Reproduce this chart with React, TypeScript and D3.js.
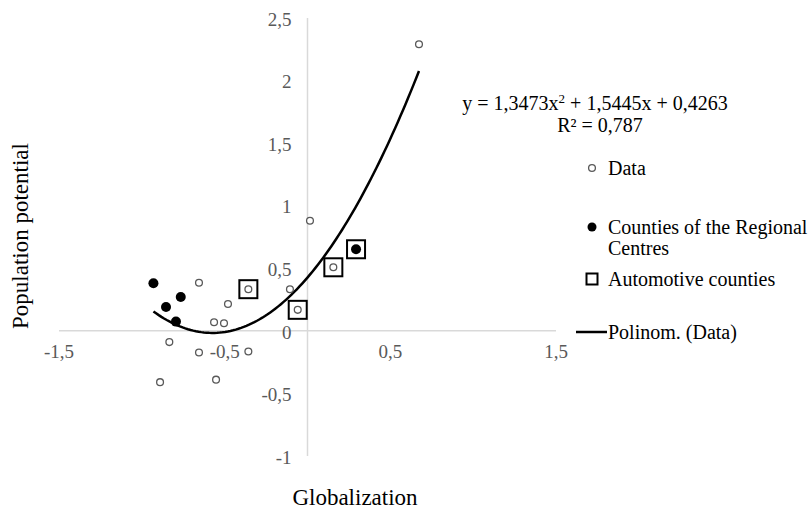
import * as d3 from 'd3';
import { useEffect, useRef } from 'react';

// all observations (Data series, trendline is fitted on these)
const dataX = [-0.93, -0.765, -0.854, -0.794, 0.293, -0.655, -0.564, -0.834, -0.655, -0.89, -0.552, -0.48, -0.504, -0.357, 0.015, -0.106, 0.673, -0.357, 0.156, -0.059];
const dataY = [0.38, 0.27, 0.19, 0.074, 0.652, 0.385, 0.069, -0.09, -0.173, -0.41, -0.39, 0.215, 0.061, -0.165, 0.88, 0.333, 2.29, 0.333, 0.508, 0.168];

// counties of the regional centres
const centresX = [-0.93, -0.765, -0.854, -0.794, 0.293];
const centresY = [0.38, 0.27, 0.19, 0.074, 0.652];

// automotive counties
const autoX = [-0.357, 0.156, -0.059, 0.293];
const autoY = [0.333, 0.508, 0.168, 0.652];

const xTicks = [-1.5, -0.5, 0.5, 1.5];
const yTicks = [-1, -0.5, 0, 0.5, 1, 1.5, 2, 2.5];

// y = a x^2 + b x + c
const trendCoef = [1.3473, 1.5445, 0.4263];
const equationLabel = ['y = 1,3473x', '2', ' + 1,5445x + 0,4263'];
const r2Label = 'R² = 0,787';

const legendLabels = ['Data', 'Counties of the Regional', 'Centres', 'Automotive counties', 'Polinom. (Data)'];

const fmt = (v: number) => String(v).replace('.', ',');

export default function App() {
    const ref = useRef<SVGSVGElement | null>(null);

    useEffect(() => {
        document.body.style.margin = '0';
        const svg = d3.select(ref.current);
        svg.selectAll('*').remove();

        const font = 'Liberation Serif, Times New Roman, serif';

        const x = d3.scaleLinear().domain([-1.5, 1.5]).range([59, 556]);
        const y = d3.scaleLinear().domain([-1, 2.5]).range([456, 18]);

        // axes lines
        svg.append('line')
            .attr('x1', x(-1.5)).attr('x2', x(1.5))
            .attr('y1', y(0)).attr('y2', y(0))
            .attr('stroke', '#d9d9d9').attr('stroke-width', 1.5);
        svg.append('line')
            .attr('x1', x(0)).attr('x2', x(0))
            .attr('y1', y(2.5)).attr('y2', y(-1))
            .attr('stroke', '#d9d9d9').attr('stroke-width', 1.5);

        // tick labels
        svg.append('g')
            .selectAll('text')
            .data(xTicks)
            .join('text')
            .attr('x', d => x(d))
            .attr('y', y(0) + 27)
            .attr('text-anchor', 'middle')
            .attr('font-family', font)
            .attr('font-size', 19)
            .attr('fill', '#595959')
            .text(d => fmt(d));

        svg.append('g')
            .selectAll('text')
            .data(yTicks)
            .join('text')
            .attr('x', x(0) - 16)
            .attr('y', d => y(d) + 1)
            .attr('dy', '0.35em')
            .attr('text-anchor', 'end')
            .attr('font-family', font)
            .attr('font-size', 19)
            .attr('fill', '#595959')
            .text(d => fmt(d));

        // trendline
        const [a, b, c] = trendCoef;
        const [xMin, xMax] = d3.extent(dataX) as [number, number];
        const trendPts = d3.range(0, 101).map(i => {
            const t = xMin + (xMax - xMin) * i / 100;
            return [t, a * t * t + b * t + c];
        });
        const line = d3.line<number[]>()
            .x(d => x(d[0]))
            .y(d => y(d[1]));
        svg.append('path')
            .datum(trendPts)
            .attr('d', line)
            .attr('fill', 'none')
            .attr('stroke', '#000')
            .attr('stroke-width', 2.5);

        // data points
        svg.append('g')
            .selectAll('circle')
            .data(dataX.map((d, i) => [d, dataY[i]]))
            .join('circle')
            .attr('cx', d => x(d[0]))
            .attr('cy', d => y(d[1]))
            .attr('r', 3.4)
            .attr('fill', '#fff')
            .attr('stroke', '#595959')
            .attr('stroke-width', 1.3);

        // regional centres
        svg.append('g')
            .selectAll('circle')
            .data(centresX.map((d, i) => [d, centresY[i]]))
            .join('circle')
            .attr('cx', d => x(d[0]))
            .attr('cy', d => y(d[1]))
            .attr('r', 5)
            .attr('fill', '#000');

        // automotive squares
        svg.append('g')
            .selectAll('rect')
            .data(autoX.map((d, i) => [d, autoY[i]]))
            .join('rect')
            .attr('x', d => x(d[0]) - 9)
            .attr('y', d => y(d[1]) - 9)
            .attr('width', 18)
            .attr('height', 18)
            .attr('fill', 'none')
            .attr('stroke', '#000')
            .attr('stroke-width', 2);

        // equation
        const eq = svg.append('text')
            .attr('x', 595)
            .attr('y', 103)
            .attr('dy', '0.35em')
            .attr('text-anchor', 'middle')
            .attr('font-family', font)
            .attr('font-size', 20)
            .attr('fill', '#000');
        eq.append('tspan').text(equationLabel[0]);
        eq.append('tspan').attr('font-size', 13).attr('dy', '-0.55em').text(equationLabel[1]);
        eq.append('tspan').attr('dy', '0.36em').text(equationLabel[2]);

        svg.append('text')
            .attr('x', 600)
            .attr('y', 125)
            .attr('dy', '0.35em')
            .attr('text-anchor', 'middle')
            .attr('font-family', font)
            .attr('font-size', 20)
            .text(r2Label);

        // legend
        const lx = 592;
        const tx = 608;
        const legendY = [168, 227, 248, 279, 332];
        svg.append('circle')
            .attr('cx', lx).attr('cy', legendY[0]).attr('r', 3.4)
            .attr('fill', '#fff').attr('stroke', '#595959').attr('stroke-width', 1.3);
        svg.append('circle')
            .attr('cx', lx).attr('cy', legendY[1]).attr('r', 4.5)
            .attr('fill', '#000');
        svg.append('rect')
            .attr('x', lx - 5.5).attr('y', legendY[3] - 5.5)
            .attr('width', 11).attr('height', 11)
            .attr('fill', 'none').attr('stroke', '#000').attr('stroke-width', 2);
        svg.append('line')
            .attr('x1', lx - 16).attr('x2', lx + 15)
            .attr('y1', legendY[4]).attr('y2', legendY[4])
            .attr('stroke', '#000').attr('stroke-width', 2.5);

        svg.append('g')
            .selectAll('text')
            .data(legendLabels)
            .join('text')
            .attr('x', tx)
            .attr('y', (d, i) => legendY[i])
            .attr('dy', '0.35em')
            .attr('font-family', font)
            .attr('font-size', 20)
            .attr('fill', '#000')
            .text(d => d);

        // axis titles
        svg.append('text')
            .attr('transform', 'translate(20,236) rotate(-90)')
            .attr('dy', '0.35em')
            .attr('text-anchor', 'middle')
            .attr('font-family', font)
            .attr('font-size', 23)
            .text('Population potential');

        svg.append('text')
            .attr('x', 355)
            .attr('y', 497)
            .attr('dy', '0.35em')
            .attr('text-anchor', 'middle')
            .attr('font-family', font)
            .attr('font-size', 23)
            .text('Globalization');
    }, []);

    return (
        <div>
            <svg ref={ref} width={812} height={509} style={{ display: 'block', background: '#fff' }} />
        </div>
    );
}
